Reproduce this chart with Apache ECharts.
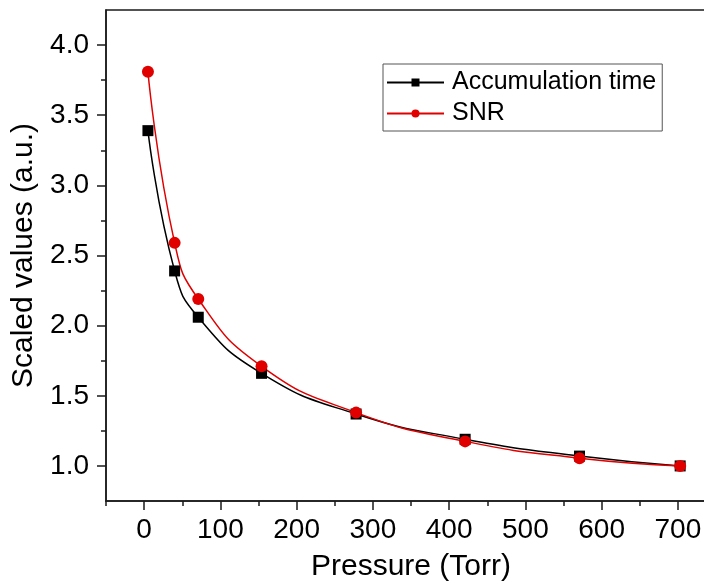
<!DOCTYPE html>
<html>
<head>
<meta charset="utf-8">
<script src="https://cdn.jsdelivr.net/npm/echarts@6/dist/echarts.min.js"></script>
<style>
html,body{margin:0;padding:0;background:#fff;}
#chart{width:704px;height:586px;}
</style>
</head>
<body>
<div id="chart"></div>
<script>
// ---- data ----
const pressure = [5, 40, 71, 154, 278, 421, 571, 703];
const accumulationTime = [3.39, 2.39, 2.06, 1.66, 1.37, 1.19, 1.07, 1.00];
const snr = [3.81, 2.59, 2.19, 1.71, 1.38, 1.175, 1.055, 1.00];

const xMajorTicks = [0, 100, 200, 300, 400, 500, 600, 700];
const xMinorTicks = [-50, 50, 150, 250, 350, 450, 550, 650];
const yMajorTicks = [1.0, 1.5, 2.0, 2.5, 3.0, 3.5, 4.0];
const yMinorTicks = [1.25, 1.75, 2.25, 2.75, 3.25, 3.75];

const seriesNames = ['Accumulation time', 'SNR'];
const xTitle = 'Pressure (Torr)';
const yTitle = 'Scaled values (a.u.)';

const FONT = '"Liberation Sans", Arial, sans-serif';
const AXC = '#1a1a1a';

const chart = echarts.init(document.getElementById('chart'), null, {renderer: 'canvas'});

const xBase = {type: 'value', min: -50, max: 750, gridIndex: 0, position: 'bottom', splitLine: {show: false}};
const yBase = {type: 'value', min: 0.75, max: 4.25, gridIndex: 0, position: 'left', splitLine: {show: false}};

chart.setOption({
  animation: false,
  backgroundColor: '#fff',
  grid: {left: 106, top: 10, right: -12, bottom: 85, show: true, borderColor: AXC, borderWidth: 1.5, outerBoundsMode: 'none', containLabel: false},
  legend: {
    orient: 'vertical', left: 383, top: 64,
    padding: [6, 6, 5, 3], itemGap: 6,
    itemWidth: 57, itemHeight: 10,
    borderColor: '#555', borderWidth: 1, backgroundColor: '#fff',
    textStyle: {fontFamily: FONT, fontSize: 25, color: '#000', padding: [0, 0, 0, 3]},
    data: seriesNames
  },
  xAxis: [
    Object.assign({}, xBase, {
      name: xTitle, nameLocation: 'middle', nameGap: 51,
      nameTextStyle: {fontFamily: FONT, fontSize: 30, color: '#000'},
      axisLine: {show: true, onZero: false, lineStyle: {color: AXC, width: 1.5}},
      axisTick: {show: true, length: 9, customValues: xMajorTicks, lineStyle: {color: AXC, width: 1.5}},
      axisLabel: {show: true, margin: 15, customValues: xMajorTicks, fontFamily: FONT, fontSize: 28, color: '#000', formatter: v => String(v)}
    }),
    Object.assign({}, xBase, {
      axisLine: {show: false, onZero: false},
      axisTick: {show: true, length: 5, customValues: xMinorTicks, lineStyle: {color: AXC, width: 1.5}},
      axisLabel: {show: false}
    })
  ],
  yAxis: [
    Object.assign({}, yBase, {
      name: yTitle, nameLocation: 'middle', nameGap: 62,
      nameTextStyle: {fontFamily: FONT, fontSize: 30, color: '#000'},
      axisLine: {show: true, onZero: false, lineStyle: {color: AXC, width: 1.5}},
      axisTick: {show: true, length: 9, customValues: yMajorTicks, lineStyle: {color: AXC, width: 1.5}},
      axisLabel: {show: true, margin: 17, customValues: yMajorTicks, fontFamily: FONT, fontSize: 28, color: '#000', formatter: v => v.toFixed(1)}
    }),
    Object.assign({}, yBase, {
      axisLine: {show: false, onZero: false},
      axisTick: {show: true, length: 5, customValues: yMinorTicks, lineStyle: {color: AXC, width: 1.5}},
      axisLabel: {show: false}
    })
  ],
  series: [
    {
      name: seriesNames[0], type: 'line', xAxisIndex: 0, yAxisIndex: 0,
      data: pressure.map((p, i) => [p, accumulationTime[i]]),
      smooth: 0.5,
      symbol: 'rect', symbolSize: 11,
      lineStyle: {color: '#000', width: 1.5},
      itemStyle: {color: '#000'}
    },
    {
      name: seriesNames[1], type: 'line', xAxisIndex: 0, yAxisIndex: 0,
      data: pressure.map((p, i) => [p, snr[i]]),
      smooth: 0.5,
      symbol: 'circle', symbolSize: 12,
      lineStyle: {color: '#e00000', width: 1.5},
      itemStyle: {color: '#e00000'}
    }
  ]
});
</script>
</body>
</html>
